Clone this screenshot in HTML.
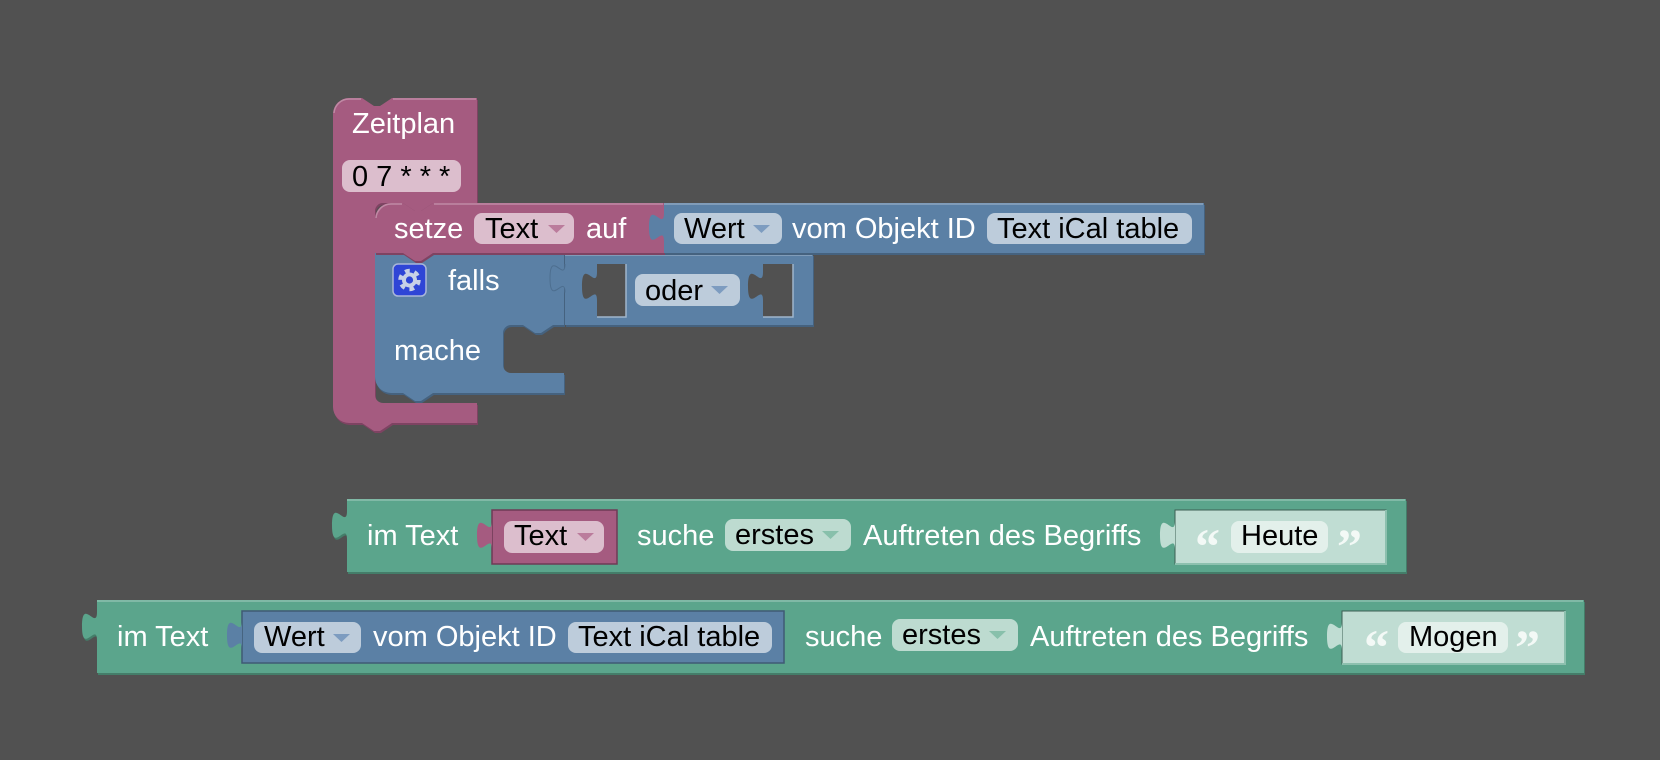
<!DOCTYPE html>
<html><head><meta charset="utf-8"><style>
html,body{margin:0;padding:0;background:#515151;}
svg{display:block}
text{font-family:"Liberation Sans",Arial,Helvetica,sans-serif;font-size:29px;}
.w{fill:#ffffff}
.k{fill:#000000}
.q{font-family:"Liberation Serif",serif;font-weight:bold;font-size:50px;fill:#f3f9f6}
</style></head><body>
<svg width="1660" height="760" viewBox="0 0 1660 760" xmlns="http://www.w3.org/2000/svg">
<defs>
<path id="zp" d="M333,114 A16,16 0 0 1 349,98 H362 l12,8 6,0 12,-8 H477 V203 H433 l-12,8 -6,0 -12,-8 H383 A8,8 0 0 0 375,211 V395 A8,8 0 0 0 383,403 H477 V423 H392 l-12,8 -6,0 -12,-8 H349 A16,16 0 0 1 333,407 Z"/>
<path id="setze" d="M375,219 A16,16 0 0 1 391,203 H403 l12,8 6,0 12,-8 H664 V253 H433 l-12,8 -6,0 -12,-8 H375 Z"/>
<path id="iff" d="M375,253 H403 l12,8 6,0 12,-8 H564 V325 H553 l-12,8 -6,0 -12,-8 H511 A8,8 0 0 0 503,333 V365 A8,8 0 0 0 511,373 H564 V393 H433 l-12,8 -6,0 -12,-8 H391 A16,16 0 0 1 375,377 Z"/>
</defs>
<rect width="1660" height="760" fill="#515151"/>

<!-- ===== Zeitplan group ===== -->
<use href="#zp" transform="translate(1,2)" fill="#7e4362"/>
<use href="#zp" fill="#a55b80"/>
<path d="M334,113 A15,15 0 0 1 349,99 H361 M393,99 H476" stroke="#c08aa5" stroke-width="1.5" fill="none"/>
<text x="352" y="133" class="w">Zeitplan</text>
<rect x="342" y="160" width="119" height="32" rx="8" fill="#dcbecd"/>
<text x="352" y="186" class="k">0 7 * * *</text>

<!-- if block -->
<use href="#iff" transform="translate(1,2)" fill="#45627f"/>
<use href="#iff" fill="#5b80a5"/>
<!-- gear -->
<rect x="393" y="264" width="33" height="32" rx="5" fill="#2f45d6" stroke="#a9b6d8" stroke-width="1.5"/>
<circle cx="409.5" cy="280" r="7.5" fill="#c8d0e6"/>
<circle cx="409.5" cy="280" r="9" fill="none" stroke="#c8d0e6" stroke-width="4.5" stroke-dasharray="4.7 4.72"/>
<circle cx="409.5" cy="280" r="3.6" fill="#2f45d6"/>
<text x="448" y="290" class="w">falls</text>
<text x="394" y="360" class="w">mache</text>

<!-- oder block -->
<g>
<rect x="566" y="256" width="248" height="71" fill="#45627f"/>
<rect x="565" y="254" width="248" height="71" fill="#5b80a5"/>
<path d="M565,264 c0,19 -15,-15.2 -15,14.25 s15,-4.75 15,14.25 Z" fill="#5b80a5"/>
<path d="M565,264 c0,19 -15,-15.2 -15,14.25 s15,-4.75 15,14.25" fill="none" stroke="#4d6e8f" stroke-width="1"/>
<line x1="565" y1="255" x2="812" y2="255" stroke="#8ca6c0" stroke-width="1.5"/>
<!-- holes -->
<rect x="597" y="264" width="29" height="53" fill="#515151"/>
<path d="M597,272 c0,19 -15,-15.2 -15,14.25 s15,-4.75 15,14.25 Z" fill="#515151"/>
<path d="M626,264 V317 H597" stroke="#9fb5cc" stroke-width="1.5" fill="none"/>
<rect x="763" y="264" width="30" height="53" fill="#515151"/>
<path d="M763,272 c0,19 -15,-15.2 -15,14.25 s15,-4.75 15,14.25 Z" fill="#515151"/>
<path d="M793,264 V317 H763" stroke="#9fb5cc" stroke-width="1.5" fill="none"/>
<rect x="635" y="274" width="105" height="32" rx="8" fill="#bdccdb"/>
<text x="645" y="300" class="k">oder</text>
<path d="M711,286 h17 l-8.5,8 Z" fill="#7d9cc0"/>
</g>

<!-- setze block -->
<use href="#setze" transform="translate(1,2)" fill="#7e4362"/>
<use href="#setze" fill="#a55b80"/>
<path d="M376,218 A15,15 0 0 1 391,204 H402 M434,204 H663" stroke="#c08aa5" stroke-width="1.5" fill="none"/>
<text x="394" y="238" class="w">setze</text>
<rect x="474" y="213" width="100" height="31" rx="8" fill="#dcbecd"/>
<text x="485" y="238" class="k">Text</text>
<path d="M548,225 h17 l-8.5,8 Z" fill="#bb7c9c"/>
<text x="586" y="238" class="w">auf</text>

<!-- Wert block row 1 -->
<rect x="665" y="205" width="540" height="50" fill="#45627f"/>
<rect x="664" y="203" width="540" height="50" fill="#5b80a5"/>
<path d="M664,213 c0,19 -15,-15.2 -15,14.25 s15,-4.75 15,14.25 Z" fill="#5b80a5"/>
<line x1="664" y1="204" x2="1203" y2="204" stroke="#8ca6c0" stroke-width="1.5"/>
<rect x="674" y="213" width="108" height="31" rx="8" fill="#bdccdb"/>
<text x="684" y="238" class="k">Wert</text>
<path d="M753,225 h17 l-8.5,8 Z" fill="#7d9cc0"/>
<text x="792" y="238" class="w">vom Objekt ID</text>
<rect x="987" y="213" width="205" height="31" rx="8" fill="#bdccdb"/>
<text x="997" y="238" class="k">Text iCal table</text>

<!-- ===== Row 2 ===== -->
<rect x="348" y="501" width="1059" height="73" fill="#447d69"/>
<path d="M348,513 c0,19 -15,-15.2 -15,14.25 s15,-4.75 15,14.25 Z" fill="#447d69"/>
<rect x="347" y="499" width="1059" height="73" fill="#5ba58c"/>
<path d="M347,511 c0,19 -15,-15.2 -15,14.25 s15,-4.75 15,14.25 Z" fill="#5ba58c"/>
<line x1="347" y1="500" x2="1405" y2="500" stroke="#8cc0ae" stroke-width="1.5"/>
<text x="367" y="545" class="w">im Text</text>

<rect x="492" y="510" width="125" height="54" fill="#a55b80" stroke="#6e3b56" stroke-width="1.5"/>
<path d="M492,521 c0,19 -15,-15.2 -15,14.25 s15,-4.75 15,14.25 Z" fill="#a55b80"/>
<rect x="504" y="521" width="100" height="32" rx="8" fill="#dcbecd"/>
<text x="514" y="545" class="k">Text</text>
<path d="M577,533 h17 l-8.5,8 Z" fill="#bb7c9c"/>

<text x="637" y="545" class="w">suche</text>
<rect x="725" y="519" width="126" height="32" rx="8" fill="#bddbd0"/>
<text x="735" y="544" class="k">erstes</text>
<path d="M822,531 h17 l-8.5,8 Z" fill="#88c0ab"/>
<text x="863" y="545" class="w">Auftreten des Begriffs</text>

<rect x="1175" y="510" width="211" height="54" fill="#c0ddd3" stroke="#3d5f53" stroke-width="1"/>
<path d="M1386,510 V564 H1175" stroke="#8cc0ae" stroke-width="2" fill="none"/>
<path d="M1175,521 c0,19 -15,-15.2 -15,14.25 s15,-4.75 15,14.25 Z" fill="#c0ddd3"/>
<text x="1195" y="563" class="q">“</text>
<rect x="1231" y="521" width="97" height="32" rx="8" fill="#e3f0eb"/>
<text x="1241" y="545" class="k">Heute</text>
<text x="1337" y="563" class="q">”</text>

<!-- ===== Row 3 ===== -->
<rect x="98" y="602" width="1487" height="73" fill="#447d69"/>
<path d="M98,614 c0,19 -15,-15.2 -15,14.25 s15,-4.75 15,14.25 Z" fill="#447d69"/>
<rect x="97" y="600" width="1487" height="73" fill="#5ba58c"/>
<path d="M97,612 c0,19 -15,-15.2 -15,14.25 s15,-4.75 15,14.25 Z" fill="#5ba58c"/>
<line x1="97" y1="601" x2="1583" y2="601" stroke="#8cc0ae" stroke-width="1.5"/>
<text x="117" y="646" class="w">im Text</text>

<rect x="242" y="611" width="542" height="52" fill="#5b80a5" stroke="#3f5a75" stroke-width="1.5"/>
<path d="M242,621 c0,19 -15,-15.2 -15,14.25 s15,-4.75 15,14.25 Z" fill="#5b80a5"/>
<rect x="254" y="622" width="107" height="31" rx="8" fill="#bdccdb"/>
<text x="264" y="646" class="k">Wert</text>
<path d="M333,634 h17 l-8.5,8 Z" fill="#7d9cc0"/>
<text x="373" y="646" class="w">vom Objekt ID</text>
<rect x="568" y="622" width="204" height="31" rx="8" fill="#bdccdb"/>
<text x="578" y="646" class="k">Text iCal table</text>

<text x="805" y="646" class="w">suche</text>
<rect x="892" y="619" width="126" height="32" rx="8" fill="#bddbd0"/>
<text x="902" y="644" class="k">erstes</text>
<path d="M989,631 h17 l-8.5,8 Z" fill="#88c0ab"/>
<text x="1030" y="646" class="w">Auftreten des Begriffs</text>

<rect x="1342" y="611" width="223" height="53" fill="#c0ddd3" stroke="#3d5f53" stroke-width="1"/>
<path d="M1565,611 V664 H1342" stroke="#8cc0ae" stroke-width="2" fill="none"/>
<path d="M1342,622 c0,19 -15,-15.2 -15,14.25 s15,-4.75 15,14.25 Z" fill="#c0ddd3"/>
<text x="1364" y="664" class="q">“</text>
<rect x="1398" y="622" width="110" height="31" rx="8" fill="#e3f0eb"/>
<text x="1409" y="646" class="k">Mogen</text>
<text x="1515" y="664" class="q">”</text>
</svg>
</body></html>
